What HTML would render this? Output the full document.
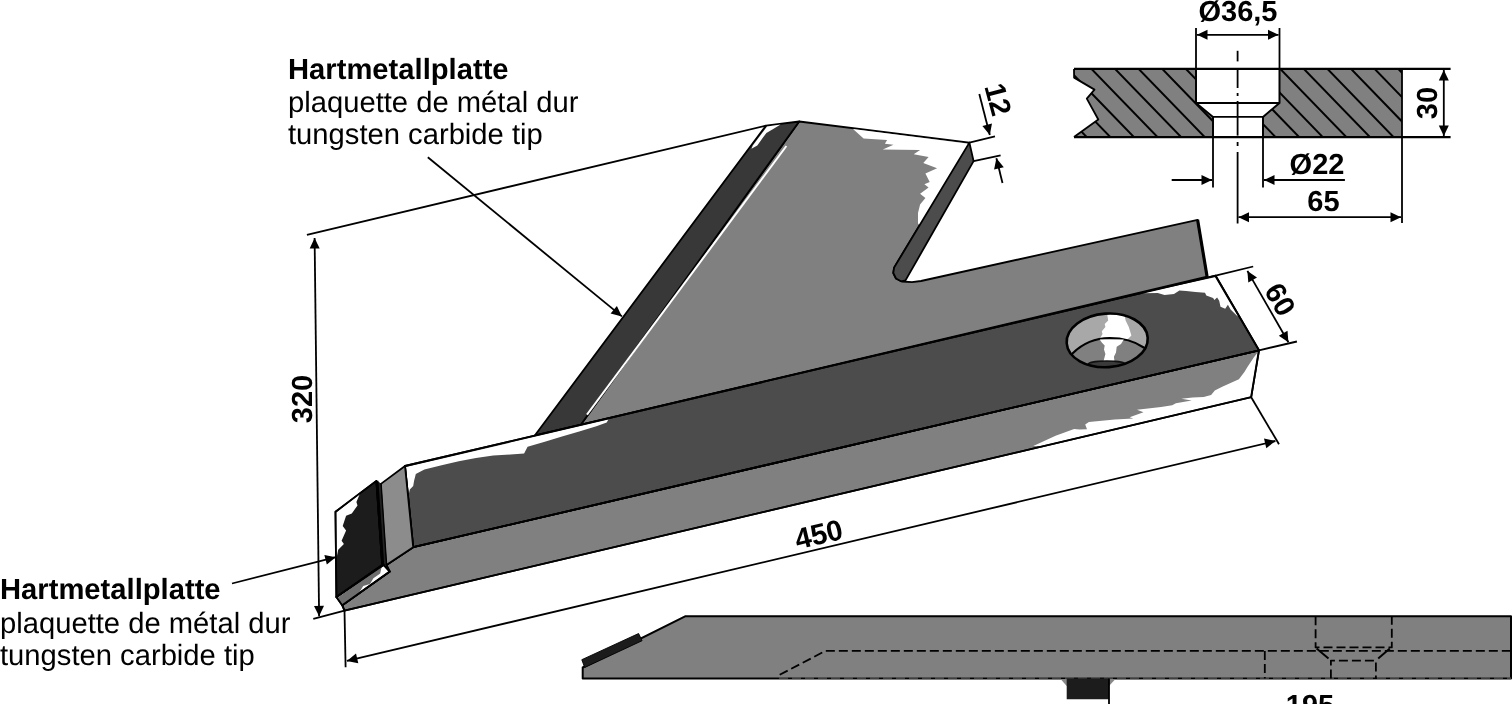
<!DOCTYPE html>
<html><head><meta charset="utf-8"><title>Hartmetallplatte</title>
<style>
html,body{margin:0;padding:0;background:#fff;}
body{width:1512px;height:704px;overflow:hidden;font-family:"Liberation Sans",sans-serif;}
svg{display:block;font-family:"Liberation Sans",sans-serif;}
text{text-rendering:geometricPrecision;}
.wrap{width:1512px;height:704px;will-change:transform;opacity:.999;}
</style></head><body>
<div class="wrap"><svg width="1512" height="704" viewBox="0 0 1512 704">
<rect width="1512" height="704" fill="#fff"/>
<polygon points="799.2,121.5 969.4,142.6 894.1,267.6 893.3,273.0 896.0,278.5 902.0,281.5 912.0,282.2 921.0,281.0 1197.6,219.8 1207.1,276.7 580.8,424.7" fill="#808080" stroke="#000" stroke-width="1.8" stroke-linejoin="round" />
<polygon points="853.0,129.0 863.6,138.4 887.1,140.1 884.9,143.7 893.5,144.8 882.8,149.4 920.1,150.1 913.7,154.3 928.6,157.1 923.3,162.9 937.1,168.2 925.4,173.5 929.7,182.1 924.4,184.2 928.6,187.4 920.1,193.8 925.4,198.0 920.1,204.4 918.0,213.0 918.0,223.6 920.5,226.0 968.2,144.2 967.0,143.5" fill="#fff" stroke="none" stroke-width="0.0" stroke-linejoin="round" />
<polygon points="969.4,142.6 973.6,161.1 905.5,280.4 901.0,281.3 896.0,278.5 893.3,273.0 894.1,267.6" fill="#4c4c4c" stroke="#000" stroke-width="1.8" stroke-linejoin="round" />
<polygon points="766.0,125.6 799.2,121.5 580.8,424.7 534.8,435.5" fill="#383838" stroke="#000" stroke-width="1.8" stroke-linejoin="round" />
<polygon points="767.0,126.6 780.6,124.6 773.2,129.0 766.4,133.0 763.0,137.5 757.3,145.5 751.5,148.8 752.8,145.5" fill="#fff" stroke="none" stroke-width="0.0" stroke-linejoin="round" />
<line x1="786.4" y1="146.0" x2="587.0" y2="414.6" stroke="#000" stroke-width="1.9800000000000002" style="stroke:#fff"/>
<line x1="1197.6" y1="219.8" x2="1207.1" y2="276.7" stroke="#000" stroke-width="3.15" />
<polygon points="413.2,547.2 1259.0,350.3 1251.2,397.2 344.5,610.6 342.2,605.2 389.8,571.6 386.4,565.0" fill="#808080" stroke="#000" stroke-width="1.8" stroke-linejoin="round" />
<polygon points="1258.0,351.9 1253.6,357.8 1247.6,366.8 1244.4,371.9 1238.9,379.3 1222.2,386.7 1214.8,390.4 1211.1,395.0 1203.7,396.9 1192.6,397.4 1181.5,398.7 1191.7,400.4 1175.9,403.3 1172.2,405.2 1161.1,407.0 1137.0,409.8 1143.5,412.2 1129.6,417.2 1133.3,418.5 1114.8,419.6 1088.9,421.9 1085.2,424.6 1087.0,429.3 1079.6,429.6 1074.1,428.9 1055.6,435.7 1033.3,445.9 1040.0,446.0 1250.2,396.6 1257.6,351.9" fill="#fff" stroke="none" stroke-width="0.0" stroke-linejoin="round" />
<polygon points="405.0,466.0 1215.6,275.7 1259.0,350.3 413.2,547.2" fill="#4c4c4c" stroke="#000" stroke-width="1.8" stroke-linejoin="round" />
<polygon points="1141.6,293.2 1157.8,293.1 1164.5,294.9 1174.0,294.0 1179.4,290.6 1186.1,290.9 1195.5,292.0 1205.0,292.7 1206.3,295.4 1213.1,298.1 1214.4,300.1 1217.1,297.4 1219.2,300.7 1220.5,306.8 1225.2,308.8 1227.9,304.8 1230.6,309.5 1236.7,315.6 1238.0,316.6 1215.0,277.2" fill="#fff" stroke="none" stroke-width="0.0" stroke-linejoin="round" />
<polygon points="406.0,467.0 408.8,494.0 409.8,489.4 413.2,486.0 414.1,480.8 415.8,473.9 424.4,469.6 441.6,465.3 458.8,461.2 476.0,457.9 493.2,455.6 510.4,454.6 524.1,453.6 527.6,446.8 544.8,441.8 562.0,436.6 579.2,431.5 596.4,426.3 606.7,422.6 608.4,419.6" fill="#fff" stroke="none" stroke-width="0.0" stroke-linejoin="round" />
<polygon points="405.0,466.0 1215.6,275.7 1259.0,350.3 413.2,547.2" fill="none" stroke="#000" stroke-width="1.8" stroke-linejoin="round" />
<polygon points="413.2,547.2 1259.0,350.3 1251.2,397.2 344.5,610.6 342.2,605.2 389.8,571.6 386.4,565.0" fill="none" stroke="#000" stroke-width="1.8" stroke-linejoin="round" />
<polygon points="380.9,483.9 405.0,466.0 413.2,547.2 386.4,565.0" fill="#8c8c8c" stroke="#000" stroke-width="1.8" stroke-linejoin="round" />
<polygon points="376.4,480.9 380.9,483.9 386.4,565.0 382.2,565.0" fill="#222" stroke="#000" stroke-width="0.9" stroke-linejoin="round" />
<polygon points="336.4,597.0 342.2,605.2 389.8,571.6 383.6,565.0" fill="#fff" stroke="#000" stroke-width="1.8" stroke-linejoin="round" />
<polygon points="337.2,598.0 342.6,604.3 358.6,593.6 363.2,586.1 370.0,583.9 373.4,578.2 380.2,573.6 381.8,566.0" fill="#6e6e6e" stroke="none" stroke-width="0.0" stroke-linejoin="round" />
<polygon points="376.4,480.9 335.5,511.8 336.4,597.0 382.2,565.0" fill="#1c1c1c" stroke="#000" stroke-width="1.8" stroke-linejoin="round" />
<polygon points="336.3,512.4 359.8,494.1 356.4,502.0 357.5,505.5 351.8,513.4 346.1,515.7 342.7,525.9 346.1,530.5 341.6,540.7 343.9,544.1 338.2,549.8 336.6,557.7" fill="#fff" stroke="none" stroke-width="0.0" stroke-linejoin="round" />
<polygon points="376.4,480.9 335.5,511.8 336.4,597.0 382.2,565.0" fill="none" stroke="#000" stroke-width="1.8" stroke-linejoin="round" />
<line x1="377.0" y1="480.9" x2="382.8" y2="565.0" stroke="#000" stroke-width="2.8800000000000003" />
<polygon points="336.4,597.0 342.2,605.2 389.8,571.6 383.6,565.0" fill="none" stroke="#000" stroke-width="1.8" stroke-linejoin="round" />
<clipPath id="hc"><ellipse cx="1107.2" cy="340.4" rx="40.6" ry="26.8" transform="rotate(-4 1107.2 340.4)"/></clipPath>
<ellipse cx="1107.2" cy="340.4" rx="40.6" ry="26.8" transform="rotate(-4 1107.2 340.4)" fill="#a8a8a8"/>
<g clip-path="url(#hc)">
<polygon points="1106.8,312.0 1124.0,312.0 1125.6,320.5 1128.8,326.9 1131.4,335.4 1127.5,339.5 1099.7,339.0 1102.5,334.0 1101.8,331.2 1105.4,326.9 1104.7,324.1 1108.2,320.5" fill="#fff" stroke="none" stroke-width="0.0" stroke-linejoin="round" />
<path d="M1060,372 L1072.7,353.2 Q1088,338.3 1109.6,338 Q1130,338 1143.7,347.5 L1152,352 L1152,375 Z" fill="#808080" stroke="#000" stroke-width="2.2"/>
<polygon points="1099.7,339.4 1123.8,339.4 1121.0,344.0 1116.7,346.8 1116.0,352.5 1113.9,356.7 1114.6,362.0 1103.3,362.0 1105.4,353.9 1104.0,349.6 1104.7,345.4 1101.8,342.5" fill="#fff" stroke="none" stroke-width="0.0" stroke-linejoin="round" />
<ellipse cx="1106.8" cy="364.3" rx="18.5" ry="3.3" fill="#3a3a3a" stroke="#111" stroke-width="1.4"/>
</g>
<ellipse cx="1107.2" cy="340.4" rx="40.6" ry="26.8" transform="rotate(-4 1107.2 340.4)" fill="none" stroke="#000" stroke-width="2.6"/>
<line x1="306.9" y1="234.9" x2="766.0" y2="125.6" stroke="#000" stroke-width="1.8" />
<line x1="313.3" y1="618.9" x2="344.5" y2="610.6" stroke="#000" stroke-width="1.8" />
<line x1="314.6" y1="238.0" x2="319.1" y2="616.3" stroke="#000" stroke-width="1.8" />
<polygon points="319.1,616.3 314.0,605.9 324.0,605.7" fill="#000" stroke="none" stroke-width="0.0" stroke-linejoin="round" />
<polygon points="314.6,238.0 319.7,248.4 309.7,248.6" fill="#000" stroke="none" stroke-width="0.0" stroke-linejoin="round" />
<text x="311.5" y="399.0" font-size="29" font-weight="bold" text-anchor="middle" transform="rotate(-90 311.5 399.0)" >320</text>
<line x1="344.5" y1="610.6" x2="345.6" y2="667.2" stroke="#000" stroke-width="1.8" />
<line x1="1251.2" y1="397.2" x2="1279.0" y2="444.3" stroke="#000" stroke-width="1.8" />
<line x1="346.9" y1="660.9" x2="1275.4" y2="441.0" stroke="#000" stroke-width="1.8" />
<polygon points="1275.4,441.0 1266.3,448.3 1264.0,438.6" fill="#000" stroke="none" stroke-width="0.0" stroke-linejoin="round" />
<polygon points="346.9,660.9 356.0,653.6 358.3,663.3" fill="#000" stroke="none" stroke-width="0.0" stroke-linejoin="round" />
<text x="821.0" y="544.0" font-size="29" font-weight="bold" text-anchor="middle" transform="rotate(-13.3 821.0 544.0)" >450</text>
<line x1="1215.6" y1="275.7" x2="1253.2" y2="266.5" stroke="#000" stroke-width="1.8" />
<line x1="1259.0" y1="350.3" x2="1296.9" y2="341.5" stroke="#000" stroke-width="1.8" />
<line x1="1247.4" y1="270.9" x2="1288.4" y2="342.3" stroke="#000" stroke-width="1.8" />
<polygon points="1288.4,342.3 1278.8,335.7 1287.5,330.7" fill="#000" stroke="none" stroke-width="0.0" stroke-linejoin="round" />
<polygon points="1247.4,270.9 1257.0,277.5 1248.3,282.5" fill="#000" stroke="none" stroke-width="0.0" stroke-linejoin="round" />
<text x="1271.5" y="304.5" font-size="29" font-weight="bold" text-anchor="middle" transform="rotate(60 1271.5 304.5)" >60</text>
<line x1="969.4" y1="142.6" x2="995.0" y2="136.4" stroke="#000" stroke-width="1.8" />
<line x1="973.6" y1="161.1" x2="1000.6" y2="155.4" stroke="#000" stroke-width="1.8" />
<line x1="979.3" y1="94.0" x2="989.8" y2="135.0" stroke="#000" stroke-width="1.8" />
<polygon points="989.8,135.0 982.4,126.1 992.0,123.6" fill="#000" stroke="none" stroke-width="0.0" stroke-linejoin="round" />
<line x1="1002.5" y1="183.0" x2="996.4" y2="158.2" stroke="#000" stroke-width="1.8" />
<polygon points="996.4,158.2 1003.8,167.2 994.1,169.6" fill="#000" stroke="none" stroke-width="0.0" stroke-linejoin="round" />
<text x="988.5" y="102.0" font-size="29" font-weight="bold" text-anchor="middle" transform="rotate(75 988.5 102.0)" >12</text>
<line x1="427.8" y1="157.3" x2="621.9" y2="316.4" stroke="#000" stroke-width="1.8" />
<polygon points="621.9,316.4 610.6,313.6 616.9,305.9" fill="#000" stroke="none" stroke-width="0.0" stroke-linejoin="round" />
<line x1="232.0" y1="583.5" x2="335.8" y2="557.2" stroke="#000" stroke-width="1.8" />
<polygon points="335.8,557.2 326.8,564.6 324.4,554.9" fill="#000" stroke="none" stroke-width="0.0" stroke-linejoin="round" />
<text x="288.0" y="79.0" font-size="29.2" font-weight="bold" text-anchor="start" >Hartmetallplatte</text>
<text x="288.0" y="111.5" font-size="29.2" text-anchor="start" >plaquette de métal dur</text>
<text x="288.0" y="143.5" font-size="29.2" text-anchor="start" >tungsten carbide tip</text>
<text x="0.0" y="599.3" font-size="29.2" font-weight="bold" text-anchor="start" >Hartmetallplatte</text>
<text x="0.0" y="632.8" font-size="29.2" text-anchor="start" >plaquette de métal dur</text>
<text x="0.0" y="665.0" font-size="29.2" text-anchor="start" >tungsten carbide tip</text>
<clipPath id="s1"><polygon points="1074.0,68.9 1196.0,68.9 1196.0,103.0 1213.0,116.9 1213.0,137.1 1074.0,137.1 1098.3,119.5 1086.8,98.6 1094.5,89.6 1074.1,77.6"/></clipPath>
<clipPath id="s2"><polygon points="1279.5,68.9 1402.0,68.9 1402.0,137.1 1263.0,137.1 1263.0,116.9 1279.5,103.0"/></clipPath>
<polygon points="1074.0,68.9 1196.0,68.9 1196.0,103.0 1213.0,116.9 1213.0,137.1 1074.0,137.1 1098.3,119.5 1086.8,98.6 1094.5,89.6 1074.1,77.6" fill="#808080" stroke="none" stroke-width="0.0" stroke-linejoin="round" />
<polygon points="1279.5,68.9 1402.0,68.9 1402.0,137.1 1263.0,137.1 1263.0,116.9 1279.5,103.0" fill="#808080" stroke="none" stroke-width="0.0" stroke-linejoin="round" />
<g clip-path="url(#s1)">
<line x1="971.5" y1="66.9" x2="1041.5" y2="139.1" stroke="#000" stroke-width="1.9800000000000002" />
<line x1="995.1" y1="66.9" x2="1065.1" y2="139.1" stroke="#000" stroke-width="1.9800000000000002" />
<line x1="1018.7" y1="66.9" x2="1088.7" y2="139.1" stroke="#000" stroke-width="1.9800000000000002" />
<line x1="1042.3" y1="66.9" x2="1112.3" y2="139.1" stroke="#000" stroke-width="1.9800000000000002" />
<line x1="1065.9" y1="66.9" x2="1135.9" y2="139.1" stroke="#000" stroke-width="1.9800000000000002" />
<line x1="1089.5" y1="66.9" x2="1159.5" y2="139.1" stroke="#000" stroke-width="1.9800000000000002" />
<line x1="1113.1" y1="66.9" x2="1183.1" y2="139.1" stroke="#000" stroke-width="1.9800000000000002" />
<line x1="1136.7" y1="66.9" x2="1206.7" y2="139.1" stroke="#000" stroke-width="1.9800000000000002" />
<line x1="1160.3" y1="66.9" x2="1230.3" y2="139.1" stroke="#000" stroke-width="1.9800000000000002" />
<line x1="1183.9" y1="66.9" x2="1253.9" y2="139.1" stroke="#000" stroke-width="1.9800000000000002" />
<line x1="1207.5" y1="66.9" x2="1277.5" y2="139.1" stroke="#000" stroke-width="1.9800000000000002" />
<line x1="1231.1" y1="66.9" x2="1301.1" y2="139.1" stroke="#000" stroke-width="1.9800000000000002" />
<line x1="1254.7" y1="66.9" x2="1324.7" y2="139.1" stroke="#000" stroke-width="1.9800000000000002" />
<line x1="1278.3" y1="66.9" x2="1348.3" y2="139.1" stroke="#000" stroke-width="1.9800000000000002" />
<line x1="1301.9" y1="66.9" x2="1371.9" y2="139.1" stroke="#000" stroke-width="1.9800000000000002" />
<line x1="1325.5" y1="66.9" x2="1395.5" y2="139.1" stroke="#000" stroke-width="1.9800000000000002" />
<line x1="1349.1" y1="66.9" x2="1419.1" y2="139.1" stroke="#000" stroke-width="1.9800000000000002" />
<line x1="1372.7" y1="66.9" x2="1442.7" y2="139.1" stroke="#000" stroke-width="1.9800000000000002" />
<line x1="1396.3" y1="66.9" x2="1466.3" y2="139.1" stroke="#000" stroke-width="1.9800000000000002" />
<line x1="1419.9" y1="66.9" x2="1489.9" y2="139.1" stroke="#000" stroke-width="1.9800000000000002" />
<line x1="1443.5" y1="66.9" x2="1513.5" y2="139.1" stroke="#000" stroke-width="1.9800000000000002" />
<line x1="1467.1" y1="66.9" x2="1537.1" y2="139.1" stroke="#000" stroke-width="1.9800000000000002" />
<line x1="1490.7" y1="66.9" x2="1560.7" y2="139.1" stroke="#000" stroke-width="1.9800000000000002" />
</g>
<g clip-path="url(#s2)">
<line x1="971.5" y1="66.9" x2="1041.5" y2="139.1" stroke="#000" stroke-width="1.9800000000000002" />
<line x1="995.1" y1="66.9" x2="1065.1" y2="139.1" stroke="#000" stroke-width="1.9800000000000002" />
<line x1="1018.7" y1="66.9" x2="1088.7" y2="139.1" stroke="#000" stroke-width="1.9800000000000002" />
<line x1="1042.3" y1="66.9" x2="1112.3" y2="139.1" stroke="#000" stroke-width="1.9800000000000002" />
<line x1="1065.9" y1="66.9" x2="1135.9" y2="139.1" stroke="#000" stroke-width="1.9800000000000002" />
<line x1="1089.5" y1="66.9" x2="1159.5" y2="139.1" stroke="#000" stroke-width="1.9800000000000002" />
<line x1="1113.1" y1="66.9" x2="1183.1" y2="139.1" stroke="#000" stroke-width="1.9800000000000002" />
<line x1="1136.7" y1="66.9" x2="1206.7" y2="139.1" stroke="#000" stroke-width="1.9800000000000002" />
<line x1="1160.3" y1="66.9" x2="1230.3" y2="139.1" stroke="#000" stroke-width="1.9800000000000002" />
<line x1="1183.9" y1="66.9" x2="1253.9" y2="139.1" stroke="#000" stroke-width="1.9800000000000002" />
<line x1="1207.5" y1="66.9" x2="1277.5" y2="139.1" stroke="#000" stroke-width="1.9800000000000002" />
<line x1="1231.1" y1="66.9" x2="1301.1" y2="139.1" stroke="#000" stroke-width="1.9800000000000002" />
<line x1="1254.7" y1="66.9" x2="1324.7" y2="139.1" stroke="#000" stroke-width="1.9800000000000002" />
<line x1="1278.3" y1="66.9" x2="1348.3" y2="139.1" stroke="#000" stroke-width="1.9800000000000002" />
<line x1="1301.9" y1="66.9" x2="1371.9" y2="139.1" stroke="#000" stroke-width="1.9800000000000002" />
<line x1="1325.5" y1="66.9" x2="1395.5" y2="139.1" stroke="#000" stroke-width="1.9800000000000002" />
<line x1="1349.1" y1="66.9" x2="1419.1" y2="139.1" stroke="#000" stroke-width="1.9800000000000002" />
<line x1="1372.7" y1="66.9" x2="1442.7" y2="139.1" stroke="#000" stroke-width="1.9800000000000002" />
<line x1="1396.3" y1="66.9" x2="1466.3" y2="139.1" stroke="#000" stroke-width="1.9800000000000002" />
<line x1="1419.9" y1="66.9" x2="1489.9" y2="139.1" stroke="#000" stroke-width="1.9800000000000002" />
<line x1="1443.5" y1="66.9" x2="1513.5" y2="139.1" stroke="#000" stroke-width="1.9800000000000002" />
<line x1="1467.1" y1="66.9" x2="1537.1" y2="139.1" stroke="#000" stroke-width="1.9800000000000002" />
<line x1="1490.7" y1="66.9" x2="1560.7" y2="139.1" stroke="#000" stroke-width="1.9800000000000002" />
</g>
<polyline points="1074.0,68.9 1074.1,77.6 1094.5,89.6 1086.8,98.6 1098.3,119.5 1074.0,137.1" fill="none" stroke="#000" stroke-width="1.8" stroke-linejoin="round" />
<polyline points="1196.0,68.9 1196.0,103.0 1213.0,116.9 1213.0,137.1" fill="none" stroke="#000" stroke-width="1.9800000000000002" stroke-linejoin="round" />
<polyline points="1279.5,68.9 1279.5,103.0 1263.0,116.9 1263.0,137.1" fill="none" stroke="#000" stroke-width="1.9800000000000002" stroke-linejoin="round" />
<line x1="1196.0" y1="103.0" x2="1279.5" y2="103.0" stroke="#000" stroke-width="1.8" />
<line x1="1213.0" y1="116.9" x2="1263.0" y2="116.9" stroke="#000" stroke-width="1.8" />
<line x1="1074.0" y1="68.9" x2="1450.6" y2="68.9" stroke="#000" stroke-width="2.16" />
<line x1="1074.0" y1="137.1" x2="1450.6" y2="137.1" stroke="#000" stroke-width="2.16" />
<line x1="1402.0" y1="68.9" x2="1402.0" y2="223.0" stroke="#000" stroke-width="1.8" />
<line x1="1196.0" y1="28.0" x2="1196.0" y2="68.9" stroke="#000" stroke-width="1.8" />
<line x1="1279.5" y1="28.0" x2="1279.5" y2="68.9" stroke="#000" stroke-width="1.8" />
<line x1="1197.0" y1="34.8" x2="1278.5" y2="34.8" stroke="#000" stroke-width="1.8" />
<polygon points="1278.5,34.8 1268.0,39.8 1268.0,29.8" fill="#000" stroke="none" stroke-width="0.0" stroke-linejoin="round" />
<polygon points="1197.0,34.8 1207.5,29.8 1207.5,39.8" fill="#000" stroke="none" stroke-width="0.0" stroke-linejoin="round" />
<text x="1238.0" y="20.5" font-size="29" font-weight="bold" text-anchor="middle" >Ø36,5</text>
<line x1="1237.6" y1="50.8" x2="1237.6" y2="61.4" stroke="#000" stroke-width="1.8" />
<line x1="1237.6" y1="70.0" x2="1237.6" y2="88.0" stroke="#000" stroke-width="1.8" />
<line x1="1237.6" y1="93.0" x2="1237.6" y2="96.0" stroke="#000" stroke-width="1.8" />
<line x1="1237.6" y1="101.0" x2="1237.6" y2="135.6" stroke="#000" stroke-width="1.8" />
<line x1="1237.6" y1="142.0" x2="1237.6" y2="146.0" stroke="#000" stroke-width="1.8" />
<line x1="1237.6" y1="152.0" x2="1237.6" y2="223.5" stroke="#000" stroke-width="1.8" />
<line x1="1213.0" y1="137.1" x2="1213.0" y2="187.5" stroke="#000" stroke-width="1.8" />
<line x1="1263.0" y1="137.1" x2="1263.0" y2="187.5" stroke="#000" stroke-width="1.8" />
<line x1="1171.7" y1="180.0" x2="1212.0" y2="180.0" stroke="#000" stroke-width="1.8" />
<polygon points="1212.0,180.0 1201.5,185.0 1201.5,175.0" fill="#000" stroke="none" stroke-width="0.0" stroke-linejoin="round" />
<line x1="1344.9" y1="180.0" x2="1264.0" y2="180.0" stroke="#000" stroke-width="1.8" />
<polygon points="1264.0,180.0 1274.5,175.0 1274.5,185.0" fill="#000" stroke="none" stroke-width="0.0" stroke-linejoin="round" />
<text x="1317.0" y="174.0" font-size="29" font-weight="bold" text-anchor="middle" >Ø22</text>
<line x1="1238.5" y1="217.2" x2="1401.0" y2="217.2" stroke="#000" stroke-width="1.8" />
<polygon points="1401.0,217.2 1390.5,222.2 1390.5,212.2" fill="#000" stroke="none" stroke-width="0.0" stroke-linejoin="round" />
<polygon points="1238.5,217.2 1249.0,212.2 1249.0,222.2" fill="#000" stroke="none" stroke-width="0.0" stroke-linejoin="round" />
<text x="1323.5" y="211.3" font-size="29" font-weight="bold" text-anchor="middle" >65</text>
<line x1="1443.8" y1="69.9" x2="1443.8" y2="136.1" stroke="#000" stroke-width="1.8" />
<polygon points="1443.8,136.1 1438.8,125.6 1448.8,125.6" fill="#000" stroke="none" stroke-width="0.0" stroke-linejoin="round" />
<polygon points="1443.8,69.9 1448.8,80.4 1438.8,80.4" fill="#000" stroke="none" stroke-width="0.0" stroke-linejoin="round" />
<text x="1437.0" y="103.0" font-size="29" font-weight="bold" text-anchor="middle" transform="rotate(-90 1437.0 103.0)" >30</text>
<polygon points="685.1,616.3 1511.0,616.3 1511.0,678.6 582.7,678.6 582.7,667.5" fill="#808080" stroke="#000" stroke-width="1.9800000000000002" stroke-linejoin="round" />
<polygon points="581.8,659.7 638.6,633.5 642.1,640.7 584.7,667.5" fill="#1c1c1c" stroke="#000" stroke-width="0.9" stroke-linejoin="round" />
<polyline points="779.7,674.8 825.4,650.9 1511.0,650.9" fill="none" stroke="#000" stroke-width="1.8" stroke-linejoin="round" stroke-dasharray="9 4"/>
<line x1="779.0" y1="678.1" x2="1511.0" y2="678.1" stroke="#000" stroke-width="0.9" stroke-dasharray="9 4" style="stroke:#777"/>
<polyline points="1315.6,616.3 1315.6,647.4 1391.8,647.4 1391.8,616.3" fill="none" stroke="#000" stroke-width="1.8" stroke-linejoin="round" stroke-dasharray="9 4"/>
<line x1="1316.6" y1="648.6" x2="1328.5" y2="658.4" stroke="#000" stroke-width="1.9800000000000002" />
<line x1="1389.8" y1="648.6" x2="1378.2" y2="658.4" stroke="#000" stroke-width="1.9800000000000002" />
<polyline points="1330.9,678.6 1330.9,660.6 1375.9,660.6 1375.9,678.6" fill="none" stroke="#000" stroke-width="1.8" stroke-linejoin="round" stroke-dasharray="9 4"/>
<line x1="1264.8" y1="650.9" x2="1264.8" y2="678.6" stroke="#000" stroke-width="1.8" stroke-dasharray="9 4"/>
<polygon points="1061.0,679.6 1115.0,679.6 1109.0,686.0 1066.7,686.0" fill="#888" stroke="none" stroke-width="0.0" stroke-linejoin="round" />
<polygon points="1066.7,678.6 1109.0,678.6 1109.0,699.2 1066.7,699.2" fill="#1c1c1c" stroke="none" stroke-width="0.0" stroke-linejoin="round" />
<line x1="1109.0" y1="678.6" x2="1109.0" y2="704.0" stroke="#000" stroke-width="1.8" />
<text x="1310.0" y="715.2" font-size="29" font-weight="bold" text-anchor="middle" >195</text>
</svg></div>
</body></html>
